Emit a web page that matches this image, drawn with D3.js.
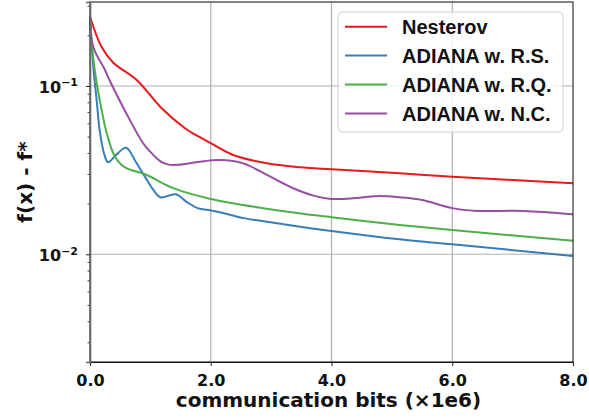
<!DOCTYPE html>
<html>
<head>
<meta charset="utf-8">
<script src="https://cdn.jsdelivr.net/npm/d3@7"></script>
<style>
  body { margin: 0; background: #fff; }
  svg { display: block; }
</style>
</head>
<body>
<div id="chart"></div>
<script>
// values (x in 1e6 bits, y = f(x) - f*)
const seriesNames = ["Nesterov", "ADIANA w. R.S.", "ADIANA w. R.Q.", "ADIANA w. N.C."];
const seriesColors = ["#e41a1c", "#377eb8", "#4daf4a", "#984ea3"];

const nesterovX = [0, 0.19, 0.386, 0.773, 1.187, 1.573, 1.82, 2.0, 2.37, 2.93, 3.48, 4.0, 5.13, 6.0, 8.0];
const nesterovY = [0.258, 0.171, 0.1375, 0.1086, 0.0737, 0.0561, 0.0496, 0.0457, 0.0389, 0.0347, 0.0329, 0.0320, 0.0303, 0.0289, 0.0264];

const rsX = [0, 0.055, 0.11, 0.166, 0.248, 0.3, 0.45, 0.6, 0.76, 0.91, 1.05, 1.17, 1.42, 1.6, 1.78, 2.0, 2.2, 2.55, 3.2, 4.0, 5.13, 6.0, 8.0];
const rsY = [0.258, 0.130, 0.0826, 0.0526, 0.038, 0.0352, 0.0395, 0.043, 0.0353, 0.0289, 0.0241, 0.0218, 0.0227, 0.0205, 0.0188, 0.0182, 0.0176, 0.0164, 0.0151, 0.01375, 0.01227, 0.01146, 0.00977];

const rqX = [0, 0.038, 0.111, 0.193, 0.276, 0.414, 0.58, 0.92, 1.38, 1.98, 3.15, 4.0, 5.13, 6.0, 8.0];
const rqY = [0.258, 0.164, 0.104, 0.072, 0.0526, 0.038, 0.0328, 0.0298, 0.0247, 0.0214, 0.01814, 0.0166, 0.01493, 0.01393, 0.01205];

const ncX = [0, 0.03, 0.083, 0.248, 0.33, 0.6, 0.88, 1.0, 1.16, 1.3, 1.45, 1.82, 2.15, 2.54, 2.93, 3.31, 3.70, 4.0, 4.47, 4.8, 5.13, 5.5, 6.0, 6.4, 7.17, 8.0];
const ncY = [0.258, 0.185, 0.16, 0.1245, 0.107, 0.0689, 0.0457, 0.0406, 0.0358, 0.0341, 0.0340, 0.0355, 0.0363, 0.0347, 0.0296, 0.0252, 0.0223, 0.0213, 0.0217, 0.0222, 0.0218, 0.0210, 0.0188, 0.0181, 0.0181, 0.0173];

const xTicks = [0, 2, 4, 6, 8];
const yMajorTicks = [0.1, 0.01];
const yExponents = ["\u22121", "\u22122"];

const W = 589, H = 418;
const plot = {left: 90, right: 573, top: 2, bottom: 362};

const svg = d3.select("#chart").append("svg")
    .attr("width", W)
    .attr("height", H);

const x = d3.scaleLinear()
    .domain([0, 8])
    .range([plot.left, plot.right]);

const y = d3.scaleLog()
    .domain([0.00229, 0.3155])
    .range([plot.bottom, plot.top]);

// grid
svg.append("g")
    .selectAll("line")
    .data(xTicks.slice(1, -1))
    .join("line")
        .attr("x1", d => x(d)).attr("x2", d => x(d))
        .attr("y1", plot.top).attr("y2", plot.bottom)
        .attr("stroke", "#b0b0b0")
        .attr("stroke-width", 1.2);

svg.append("g")
    .selectAll("line")
    .data(yMajorTicks)
    .join("line")
        .attr("x1", plot.left).attr("x2", plot.right)
        .attr("y1", d => y(d)).attr("y2", d => y(d))
        .attr("stroke", "#b0b0b0")
        .attr("stroke-width", 1.2);

// curves
const allSeries = [
    nesterovX.map((v, i) => [v, nesterovY[i]]),
    rsX.map((v, i) => [v, rsY[i]]),
    rqX.map((v, i) => [v, rqY[i]]),
    ncX.map((v, i) => [v, ncY[i]])
];

const line = d3.line()
    .x(d => x(d[0]))
    .y(d => y(d[1]))
    .curve(d3.curveCatmullRom.alpha(0.5));

svg.append("g")
    .selectAll("path")
    .data(allSeries)
    .join("path")
        .attr("fill", "none")
        .attr("stroke", (d, i) => seriesColors[i])
        .attr("stroke-width", 2)
        .attr("d", line);

// frame
svg.append("rect")
    .attr("x", plot.left)
    .attr("y", plot.top)
    .attr("width", plot.right - plot.left)
    .attr("height", plot.bottom - plot.top)
    .attr("fill", "none")
    .attr("stroke", "#222")
    .attr("stroke-width", 1.1);

// x axis
const xAxisCall = d3.axisBottom(x)
    .tickValues(xTicks)
    .tickSize(4)
    .tickFormat(d3.format(".1f"));

const xAxis = svg.append("g")
    .attr("transform", `translate(0, ${plot.bottom})`)
    .call(xAxisCall);
xAxis.select(".domain").attr("stroke", "#111").attr("stroke-width", 1.1);
xAxis.selectAll(".tick line").attr("stroke", "#222");
xAxis.selectAll("text")
    .attr("font-family", "DejaVu Sans")
    .attr("font-weight", "bold")
    .attr("font-size", 16)
    .attr("fill", "#111")
    .attr("dy", "1.05em");

// y axis, minor ticks
const yMinor = y.ticks().filter(d => yMajorTicks.indexOf(d) < 0);
const yAxisMinor = svg.append("g")
    .attr("transform", `translate(${plot.left}, 0)`)
    .call(d3.axisLeft(y).tickValues(yMinor).tickSize(2.5).tickFormat(""));
yAxisMinor.select(".domain").remove();
yAxisMinor.selectAll(".tick line").attr("stroke", "#444");

const yAxisMajor = svg.append("g")
    .attr("transform", `translate(${plot.left}, 0)`)
    .call(d3.axisLeft(y).tickValues(yMajorTicks).tickSize(4).tickFormat(""));
yAxisMajor.select(".domain").attr("stroke", "#666").attr("stroke-width", 1.6);
yAxisMajor.selectAll(".tick line").attr("stroke", "#222");

const yLabels = svg.append("g")
    .selectAll("text")
    .data(yMajorTicks)
    .join("text")
        .attr("x", plot.left - 12)
        .attr("y", d => y(d) + 7)
        .attr("text-anchor", "end")
        .attr("font-family", "DejaVu Sans")
        .attr("font-weight", "bold")
        .attr("font-size", 16)
        .attr("fill", "#111");
yLabels.append("tspan").text("10");
yLabels.append("tspan")
    .attr("font-size", 11)
    .attr("dy", -6.5)
    .text((d, i) => yExponents[i]);

// axis titles
svg.append("text")
    .attr("x", (plot.left + plot.right) / 2 - 3)
    .attr("y", 407)
    .attr("text-anchor", "middle")
    .attr("font-family", "DejaVu Sans")
    .attr("font-weight", "bold")
    .attr("font-size", 20)
    .attr("fill", "#111")
    .text("communication bits (\u00d71e6)");

svg.append("text")
    .attr("transform", `translate(32, ${(plot.top + plot.bottom) / 2}) rotate(-90)`)
    .attr("text-anchor", "middle")
    .attr("font-family", "DejaVu Sans")
    .attr("font-weight", "bold")
    .attr("font-size", 20)
    .attr("fill", "#111")
    .text("f(x) - f*");

// legend
const legend = svg.append("g");
legend.append("rect")
    .attr("x", 338).attr("y", 12)
    .attr("width", 225).attr("height", 120)
    .attr("rx", 4)
    .attr("fill", "#fff")
    .attr("fill-opacity", 0.8)
    .attr("stroke", "#d0d0d0");

const rows = legend.selectAll("g.row")
    .data(seriesNames)
    .join("g")
        .attr("class", "row")
        .attr("transform", (d, i) => `translate(345, ${26.7 + i * 28.9})`);

rows.append("line")
    .attr("x1", 0).attr("x2", 42)
    .attr("stroke", (d, i) => seriesColors[i])
    .attr("stroke-width", 2);

rows.append("text")
    .attr("x", 57)
    .attr("dy", "0.36em")
    .attr("font-family", "Liberation Sans, Arial, sans-serif")
    .attr("font-weight", "bold")
    .attr("font-size", 20)
    .attr("fill", "#111")
    .text(d => d);
</script>
</body>
</html>
